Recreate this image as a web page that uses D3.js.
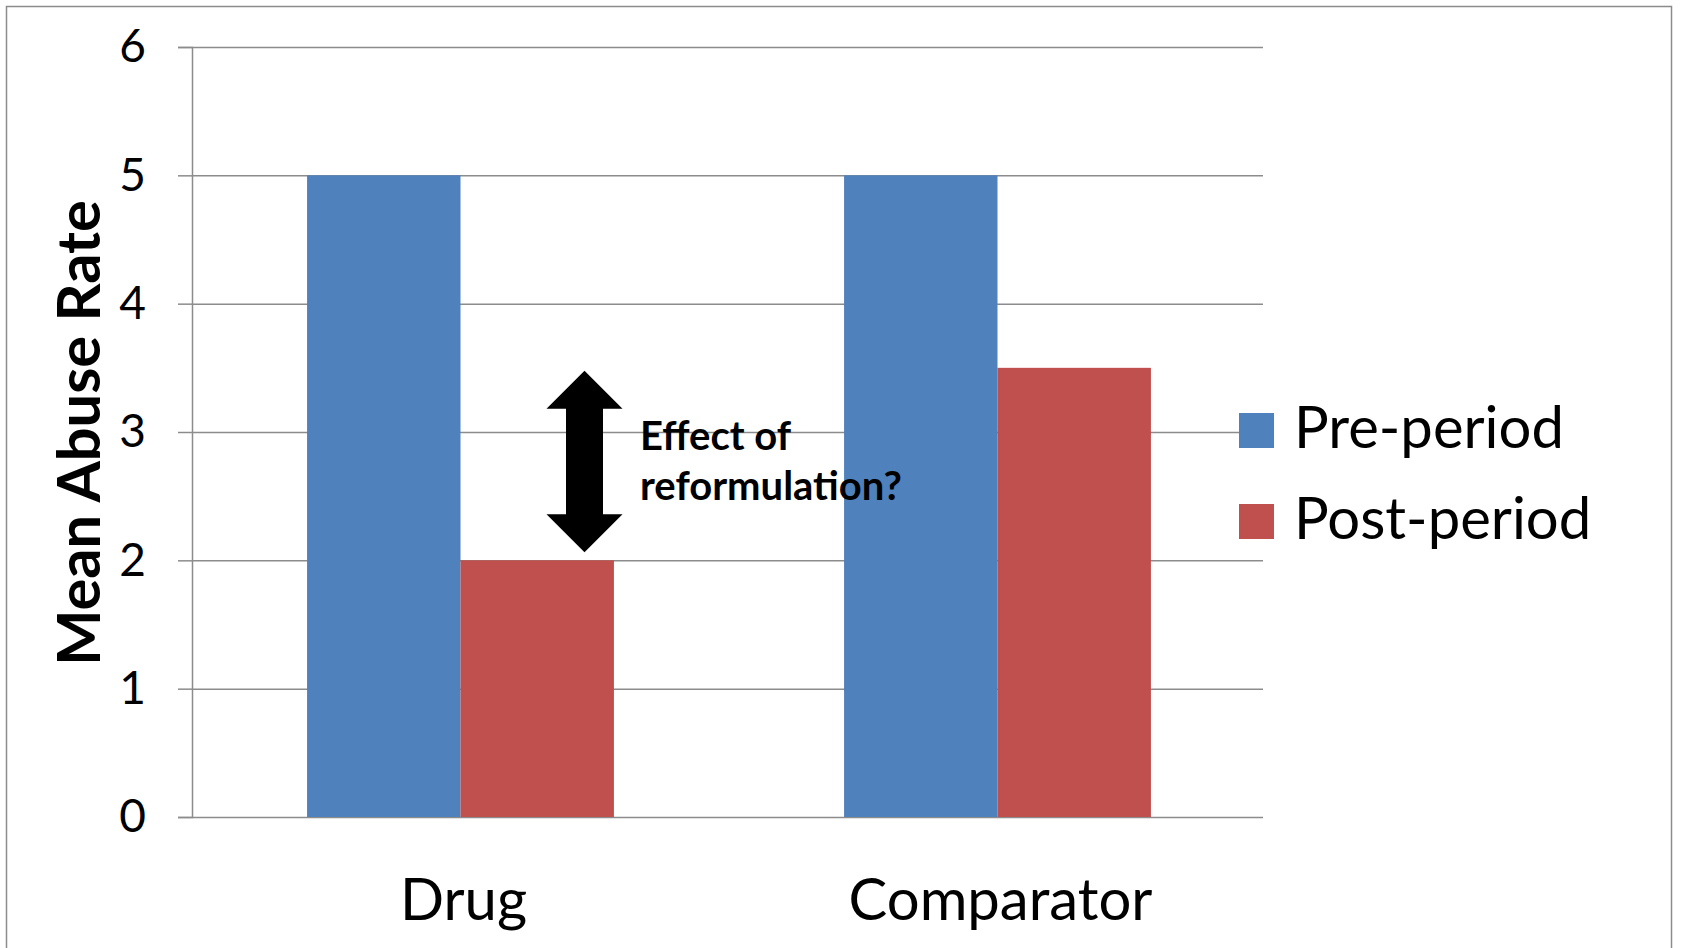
<!DOCTYPE html>
<html>
<head>
<meta charset="utf-8">
<script src="https://cdn.jsdelivr.net/npm/d3@7"></script>
<style>
	body { margin: 0; background: #fff; }
	svg { display: block; font-family: Lato, 'Open Sans', sans-serif; }
</style>
</head>
<body>
<div class="chart"></div>
<script>
// chart data
const categories = [ 'Drug', 'Comparator' ];
const seriesNames = [ 'Pre-period', 'Post-period' ];
const preValues = [ 5, 5 ];
const postValues = [ 2, 3.5 ];
const yTicks = [ 0, 1, 2, 3, 4, 5, 6 ];
const annotationLines = [ 'Effect of', 'reformulation?' ];

const svgWidth = 1698;
const svgHeight = 948;
const plot = { left: 192, right: 1266, top: 47, bottom: 817 };

const svg = d3.select('.chart').append('svg').attr('width', svgWidth).attr('height', svgHeight);

// outer chart frame (bottom edge runs off the page)
svg
	.append('rect')
	.attr('x', 6.5)
	.attr('y', 6.5)
	.attr('width', 1665)
	.attr('height', 1000)
	.attr('fill', '#fff')
	.attr('stroke', '#8c8c8c')
	.attr('stroke-width', 1.5);

const rows = categories.map((c, i) => ({ cat: c, values: [ preValues[i], postValues[i] ] }));

const x0 = d3.scaleBand().domain(categories).range([ plot.left, plot.right ]).padding(0);
const x1 = d3.scaleBand().domain(seriesNames).range([ 0, x0.bandwidth() ]).paddingInner(0).paddingOuter(0.75);
const y = d3.scaleLinear().domain([ 0, 6 ]).range([ plot.bottom, plot.top ]);
const color = d3.scaleOrdinal().domain(seriesNames).range([ '#4f81bd', '#c0504d' ]);

// gridlines + y axis
const yAxis = (g) =>
	g
		.attr('transform', `translate(${plot.left},0)`)
		.call(d3.axisLeft(y).tickValues(yTicks).tickFormat(d3.format('d')).tickSize(14).tickPadding(32))
		.call((g) => g.select('.domain').attr('stroke', '#8c8c8c').attr('stroke-width', 1.5))
		.call((g) => g.selectAll('.tick line').attr('stroke', '#8c8c8c').attr('stroke-width', 1.5))
		.call((g) =>
			g
				.selectAll('.tick')
				.append('line')
				.attr('x1', 0)
				.attr('x2', plot.right - plot.left - 3)
				.attr('stroke', '#8c8c8c')
				.attr('stroke-width', 1.5)
		)
		.call((g) => g.selectAll('.tick text').attr('font-size', 46).attr('font-family', 'Lato').attr('fill', '#000'));

svg.append('g').call(yAxis);

// bars
svg
	.append('g')
	.selectAll('g')
	.data(rows)
	.join('g')
	.attr('transform', (d) => `translate(${x0(d.cat)},0)`)
	.selectAll('rect')
	.data((d) => d.values.map((v, i) => ({ key: seriesNames[i], value: v })))
	.join('rect')
	.attr('x', (d) => x1(d.key))
	.attr('y', (d) => y(d.value))
	.attr('width', x1.bandwidth())
	.attr('height', (d) => y(0) - y(d.value))
	.attr('fill', (d) => color(d.key));

// category labels
svg
	.append('g')
	.selectAll('text')
	.data(categories)
	.join('text')
	.attr('x', (d) => x0(d) + x0.bandwidth() / 2 + 3)
	.attr('y', 920)
	.attr('text-anchor', 'middle')
	.attr('font-size', 58)
	.text((d) => d);

// y axis title
svg
	.append('text')
	.attr('transform', `translate(100,${(plot.top + plot.bottom) / 2 + 1}) rotate(-90)`)
	.attr('text-anchor', 'middle')
	.attr('font-size', 59.5)
	.attr('font-weight', 'bold')
	.text('Mean Abuse Rate');

// double arrow: comparator drop (3.5) down to drug post value (2)
const ax = x0('Drug') + x0.bandwidth() / 2 + 124;
const aTop = y(postValues[1]) + 3;
const aBot = y(postValues[0]) - 8;
const headH = 38;
const headW = 38;
const shaftW = 18.5;
svg
	.append('path')
	.attr('fill', '#000')
	.attr(
		'd',
		d3.line()([
			[ ax, aTop ],
			[ ax + headW, aTop + headH ],
			[ ax + shaftW, aTop + headH ],
			[ ax + shaftW, aBot - headH ],
			[ ax + headW, aBot - headH ],
			[ ax, aBot ],
			[ ax - headW, aBot - headH ],
			[ ax - shaftW, aBot - headH ],
			[ ax - shaftW, aTop + headH ],
			[ ax - headW, aTop + headH ]
		]) + 'Z'
	);

svg
	.append('g')
	.selectAll('text')
	.data(annotationLines)
	.join('text')
	.attr('x', 640)
	.attr('y', (d, i) => 450 + i * 50)
	.attr('font-size', 40)
	.attr('font-weight', 'bold')
	.text((d) => d);

// legend
const legend = svg
	.append('g')
	.selectAll('g')
	.data(seriesNames)
	.join('g')
	.attr('transform', (d, i) => `translate(1239,${413 + i * 91})`);

legend.append('rect').attr('width', 35).attr('height', 35).attr('fill', (d) => color(d));
legend.append('text').attr('x', 55).attr('y', 35).attr('font-size', 58).text((d) => d);
</script>
</body>
</html>
